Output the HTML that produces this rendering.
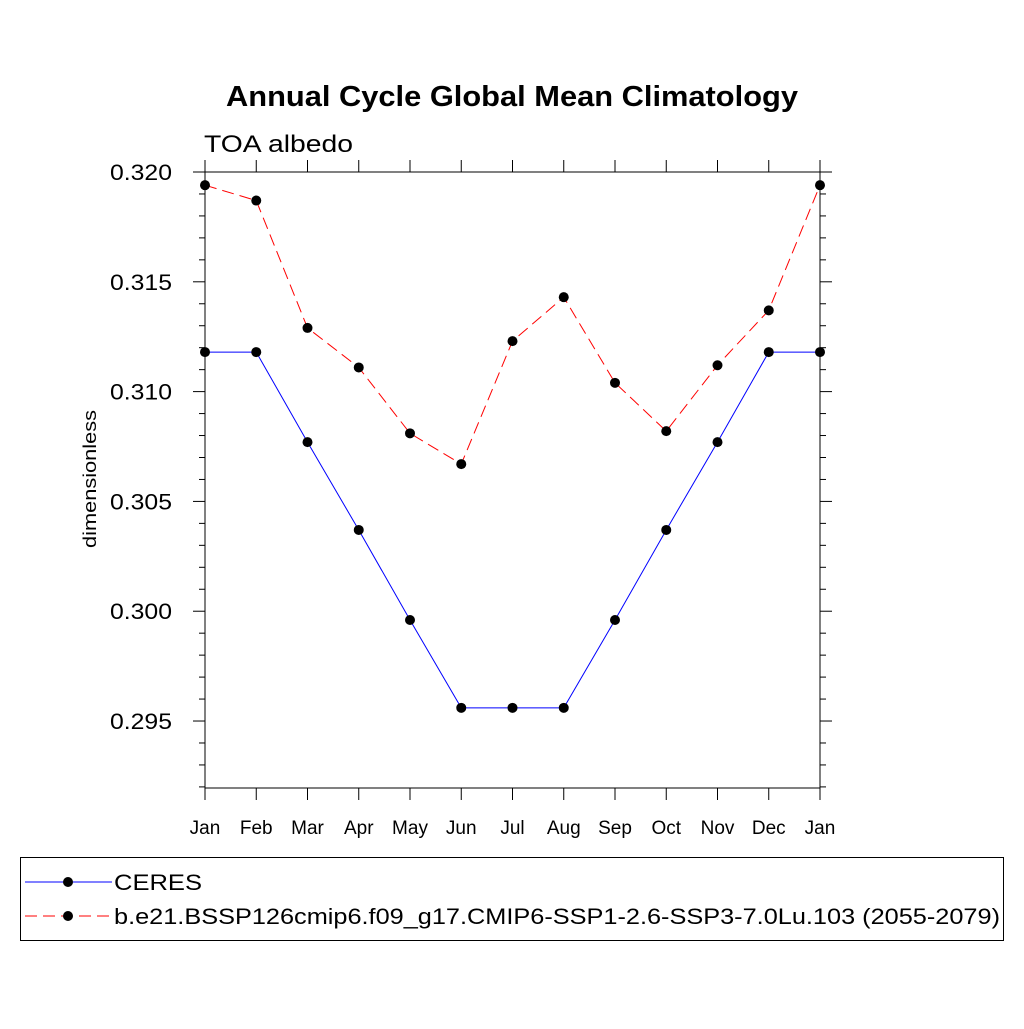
<!DOCTYPE html>
<html><head><meta charset="utf-8"><style>
body{margin:0;background:#fff}
svg text{font-family:"Liberation Sans",sans-serif}
</style></head><body>
<svg id="chart" width="1024" height="1024" viewBox="0 0 1024 1024">
<rect width="1024" height="1024" fill="#fff"/>
<text x="226" y="106" textLength="572" lengthAdjust="spacingAndGlyphs" font-size="29" font-weight="bold">Annual Cycle Global Mean Climatology</text>
<text x="204" y="152" textLength="149" lengthAdjust="spacingAndGlyphs" font-size="24">TOA albedo</text>
<text transform="translate(96,479) rotate(-90)" x="-69" textLength="138" lengthAdjust="spacingAndGlyphs" font-size="18">dimensionless</text>
<g id="axes"></g><g id="series"></g>
<g>
<rect x="20.5" y="857.5" width="983" height="83" fill="none" stroke="#000" stroke-width="1"/>
<g>
<line x1="25" y1="882" x2="112" y2="882" stroke="#0000ff" stroke-width="1"/>
<circle cx="68" cy="882" r="5" fill="#000"/>
<text x="114" y="890" textLength="88" lengthAdjust="spacingAndGlyphs" font-size="22">CERES</text></g>
<g>
<line x1="25" y1="916" x2="112" y2="916" stroke="#ff0000" stroke-width="1" stroke-dasharray="12,6"/>
<circle cx="68" cy="916" r="5" fill="#000"/>
<text x="114" y="924" textLength="886" lengthAdjust="spacingAndGlyphs" font-size="22">b.e21.BSSP126cmip6.f09_g17.CMIP6-SSP1-2.6-SSP3-7.0Lu.103 (2055-2079)</text></g>
</g>
</svg>
<script>
const months=["Jan","Feb","Mar","Apr","May","Jun","Jul","Aug","Sep","Oct","Nov","Dec","Jan"];
const ceres=[0.3118,0.3118,0.3077,0.3037,0.2996,0.2956,0.2956,0.2956,0.2996,0.3037,0.3077,0.3118,0.3118];
const model=[0.3194,0.3187,0.3129,0.3111,0.3081,0.3067,0.3123,0.3143,0.3104,0.3082,0.3112,0.3137,0.3194];
const yTicks=[0.295,0.300,0.305,0.310,0.315,0.320];
const yTickLabels=["0.295","0.300","0.305","0.310","0.315","0.320"];
const L=205,R=820,T=172,B=788,yMin=0.29195,yMax=0.320;
const ns="http://www.w3.org/2000/svg";
const X=i=>L+i*(R-L)/(months.length-1);
const Y=v=>B-(v-yMin)/(yMax-yMin)*(B-T);
function mk(t,a,p){const e=document.createElementNS(ns,t);for(const k in a)e.setAttribute(k,a[k]);p.appendChild(e);return e;}
const ax=document.getElementById('axes');
const frame=mk('rect',{x:L,y:T,width:R-L,height:B-T,fill:'none',stroke:'#000','stroke-width':1},ax);


months.forEach((m,i)=>{const x=X(i);
mk('line',{x1:x,y1:B,x2:x,y2:B+12,stroke:'#000'},ax);
mk('line',{x1:x,y1:T,x2:x,y2:T-12,stroke:'#000'},ax);
const t=mk('text',{x:x,y:834,'text-anchor':'middle','font-size':19},ax);t.textContent=m;

});
for(let v=0.292;v<=0.3201;v+=0.001){const y=Y(v);const maj=Math.abs(Math.round(v*1000)%5)===0;const len=maj?12:6;
mk('line',{x1:L,y1:y,x2:L-len,y2:y,stroke:'#000'},ax);
mk('line',{x1:R,y1:y,x2:R+len,y2:y,stroke:'#000'},ax);}
yTicks.forEach((v,i)=>{const t=mk('text',{x:110,y:Y(v)+8,textLength:62,lengthAdjust:'spacingAndGlyphs','font-size':22},ax);t.textContent=yTickLabels[i];

});
const sg=document.getElementById('series');
function series(d,color,dash,name){const g=mk('g',{},sg);


mk('polyline',{points:d.map((v,i)=>X(i)+','+Y(v)).join(' '),fill:'none',stroke:color,'stroke-width':1,'stroke-dasharray':dash},g);
d.forEach((v,i)=>{const c=mk('circle',{cx:X(i),cy:Y(v),r:5,fill:'#000'},g);

});}
series(ceres,'#0000ff','none','ceres-series');
series(model,'#ff0000','12,6','model-series');
</script>
</body></html>
